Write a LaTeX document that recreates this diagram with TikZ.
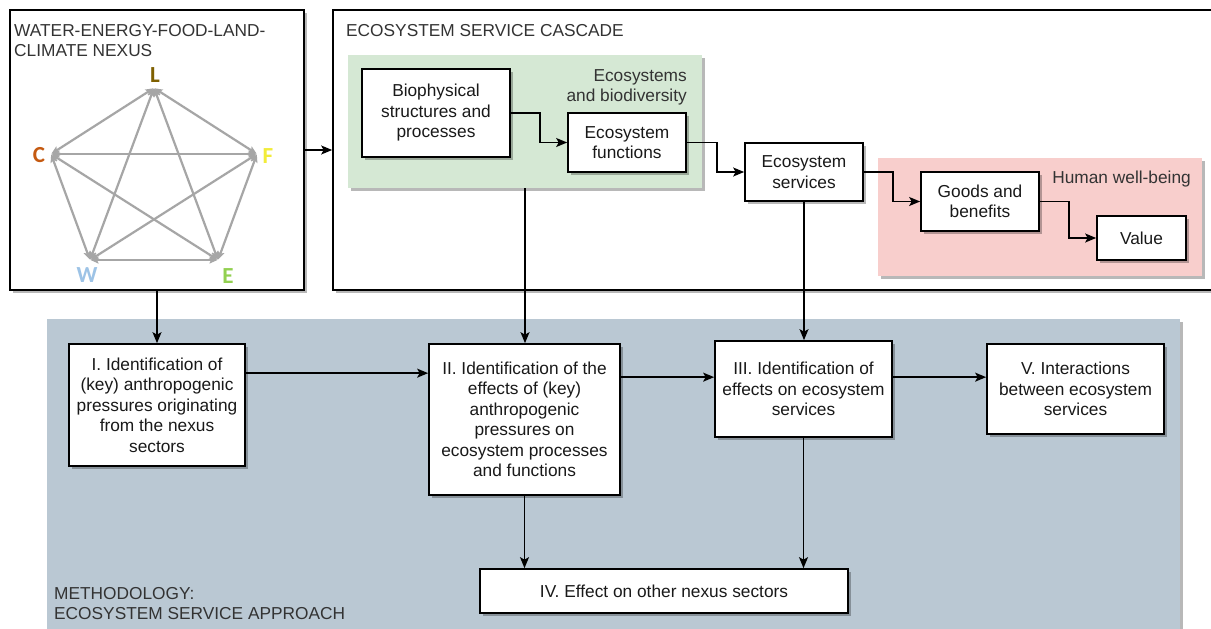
\documentclass[tikz,border=0pt]{standalone}
\usepackage{fontspec}
\setmainfont{Liberation Sans}
\newfontfamily\calib{Carlito}
\usetikzlibrary{arrows.meta,shadows,calc}
\definecolor{greenreg}{HTML}{D5E8D4}
\definecolor{pinkreg}{HTML}{F8CECC}
\definecolor{bluereg}{HTML}{BAC8D3}
\definecolor{pentgray}{HTML}{A6A6A6}
\definecolor{colL}{HTML}{7F6000}
\definecolor{colC}{HTML}{C55A11}
\definecolor{colF}{HTML}{F2EC3A}
\definecolor{colW}{HTML}{9DC3E6}
\definecolor{colE}{HTML}{92D050}
\definecolor{txtgray}{HTML}{333333}
\begin{document}
\begin{tikzpicture}[x=1pt,y=-1pt,
  shad/.style={drop shadow={shadow xshift=3pt,shadow yshift=-3pt,fill=black,opacity=0.28}},
  box/.style={draw=black,line width=1.7pt,fill=white,inner sep=0pt,align=center,
    font=\fontsize{17.3}{20.5}\selectfont,text=black!90,shad},
  region/.style={inner sep=0pt,shad},
  title/.style={inner sep=0pt,align=left,font=\fontsize{17.3}{20.5}\selectfont,text=txtgray},
  arr/.style={draw=black,line width=1.5pt,-{Stealth[length=11pt,width=9pt,inset=2.5pt]}},
  pent/.style={draw=pentgray,line width=2.2pt,{Stealth[length=8pt,width=7pt,inset=1.5pt]}-{Stealth[length=8pt,width=7pt,inset=1.5pt]},shorten <=0.5pt,shorten >=0.5pt},
  plab/.style={inner sep=0pt,font=\calib\bfseries\fontsize{23}{23}\selectfont}
]
\useasboundingbox (0,0) rectangle (1211,629);
\fill[white] (0,0) rectangle (1211,629);

% regions
\node[region,draw=black,line width=1.7pt,fill=white,minimum width=294pt,minimum height=280pt] (nexus) at (157,150) {};
\node[region,draw=black,line width=1.7pt,fill=white,minimum width=897pt,minimum height=280pt] (cascade) at (781.5,150) {};
\node[region,fill=greenreg,minimum width=354pt,minimum height=133pt] (green) at (525,121.5) {};
\node[region,fill=pinkreg,minimum width=324pt,minimum height=118pt] (pink) at (1040,217) {};
\node[region,fill=bluereg,minimum width=1133pt,minimum height=321pt] (blue) at (613.5,479.5) {};

% titles
\node[title,anchor=north west] (tnexus) at (14,24) {WATER-ENERGY-FOOD-LAND-\\CLIMATE NEXUS};
\node[title,anchor=north west] (tcascade) at (346,24) {ECOSYSTEM SERVICE CASCADE};
\node[title,anchor=north east,align=right] (teco) at (687,69) {Ecosystems\\and biodiversity};
\node[title,anchor=north east] (thuman) at (1191,171) {Human well-being};
\node[title,anchor=north west] (tmeth) at (54,587) {METHODOLOGY:\\ECOSYSTEM SERVICE APPROACH};

% pentagon
\coordinate (L) at (154,88);
\coordinate (C) at (51,154);
\coordinate (F) at (257,154);
\coordinate (W) at (90,260);
\coordinate (E) at (218,260);
\draw[pent] (L) -- (C);
\draw[pent] (L) -- (F);
\draw[pent] (L) -- (W);
\draw[pent] (L) -- (E);
\draw[pent] (C) -- (F);
\draw[pent] (C) -- (W);
\draw[pent] (C) -- (E);
\draw[pent] (F) -- (W);
\draw[pent] (F) -- (E);
\draw[pent] (W) -- (E);
\node[plab,text=colL] (lL) at (155,75) {L};
\node[plab,text=colC] (lC) at (39,155) {C};
\node[plab,text=colF] (lF) at (268,156) {F};
\node[plab,text=colW] (lW) at (87,275) {W};
\node[plab,text=colE] (lE) at (228,276) {E};

% cascade boxes
\node[box,minimum width=148pt,minimum height=88pt] (bio) at (436,113) {Biophysical\\structures and\\processes};
\node[box,minimum width=118pt,minimum height=59pt] (func) at (627,142.5) {Ecosystem\\functions};
\node[box,minimum width=118pt,minimum height=58pt] (serv) at (804,172) {Ecosystem\\services};
\node[box,minimum width=118pt,minimum height=59pt] (goods) at (980,201.5) {Goods and\\benefits};
\node[box,minimum width=89pt,minimum height=44pt] (value) at (1141.5,238) {Value};

% methodology boxes
\node[box,minimum width=176pt,minimum height=122pt] (s1) at (157,405) {I. Identification of\\(key) anthropogenic\\pressures originating\\from the nexus\\sectors};
\node[box,minimum width=191pt,minimum height=151pt] (s2) at (524.5,419.5) {II. Identification of the\\effects of (key)\\anthropogenic\\pressures on\\ecosystem processes\\and functions};
\node[box,minimum width=177pt,minimum height=96pt] (s3) at (803.5,389) {III. Identification of\\effects on ecosystem\\services};
\node[box,minimum width=177pt,minimum height=90pt] (s5) at (1075.5,389) {V. Interactions\\between ecosystem\\services};
\node[box,minimum width=368pt,minimum height=44pt] (s4) at (664,591) {IV. Effect on other nexus sectors};

% connectors
\draw[arr] (nexus.east) -- (cascade.west);
\draw[arr] (bio.east) -- ++(29,0) |- (func.west);
\draw[arr] (func.east) -- ++(30,0) |- (serv.west);
\draw[arr] (serv.east) -- ++(29,0) |- (goods.west);
\draw[arr] (goods.east) -- ++(29,0) |- (value.west);
\draw[arr] (nexus.south) -- (s1.north);
\draw[arr] (green.south) -- (green.south |- s2.north);
\draw[arr] (serv.south) -- (serv.south |- s3.north);
\draw[arr] ([yshift=-30pt]s1.north east) -- ([yshift=-30pt]s1.north east -| s2.west);
\draw[arr] ([yshift=-34pt]s2.north east) -- ([yshift=-34pt]s2.north east -| s3.west);
\draw[arr] ([yshift=-37pt]s3.north east) -- ([yshift=-37pt]s3.north east -| s5.west);
\draw[arr] (s2.south) -- (s2.south |- s4.north);
\draw[arr] (s3.south) -- (s3.south |- s4.north);
\end{tikzpicture}
\end{document}
